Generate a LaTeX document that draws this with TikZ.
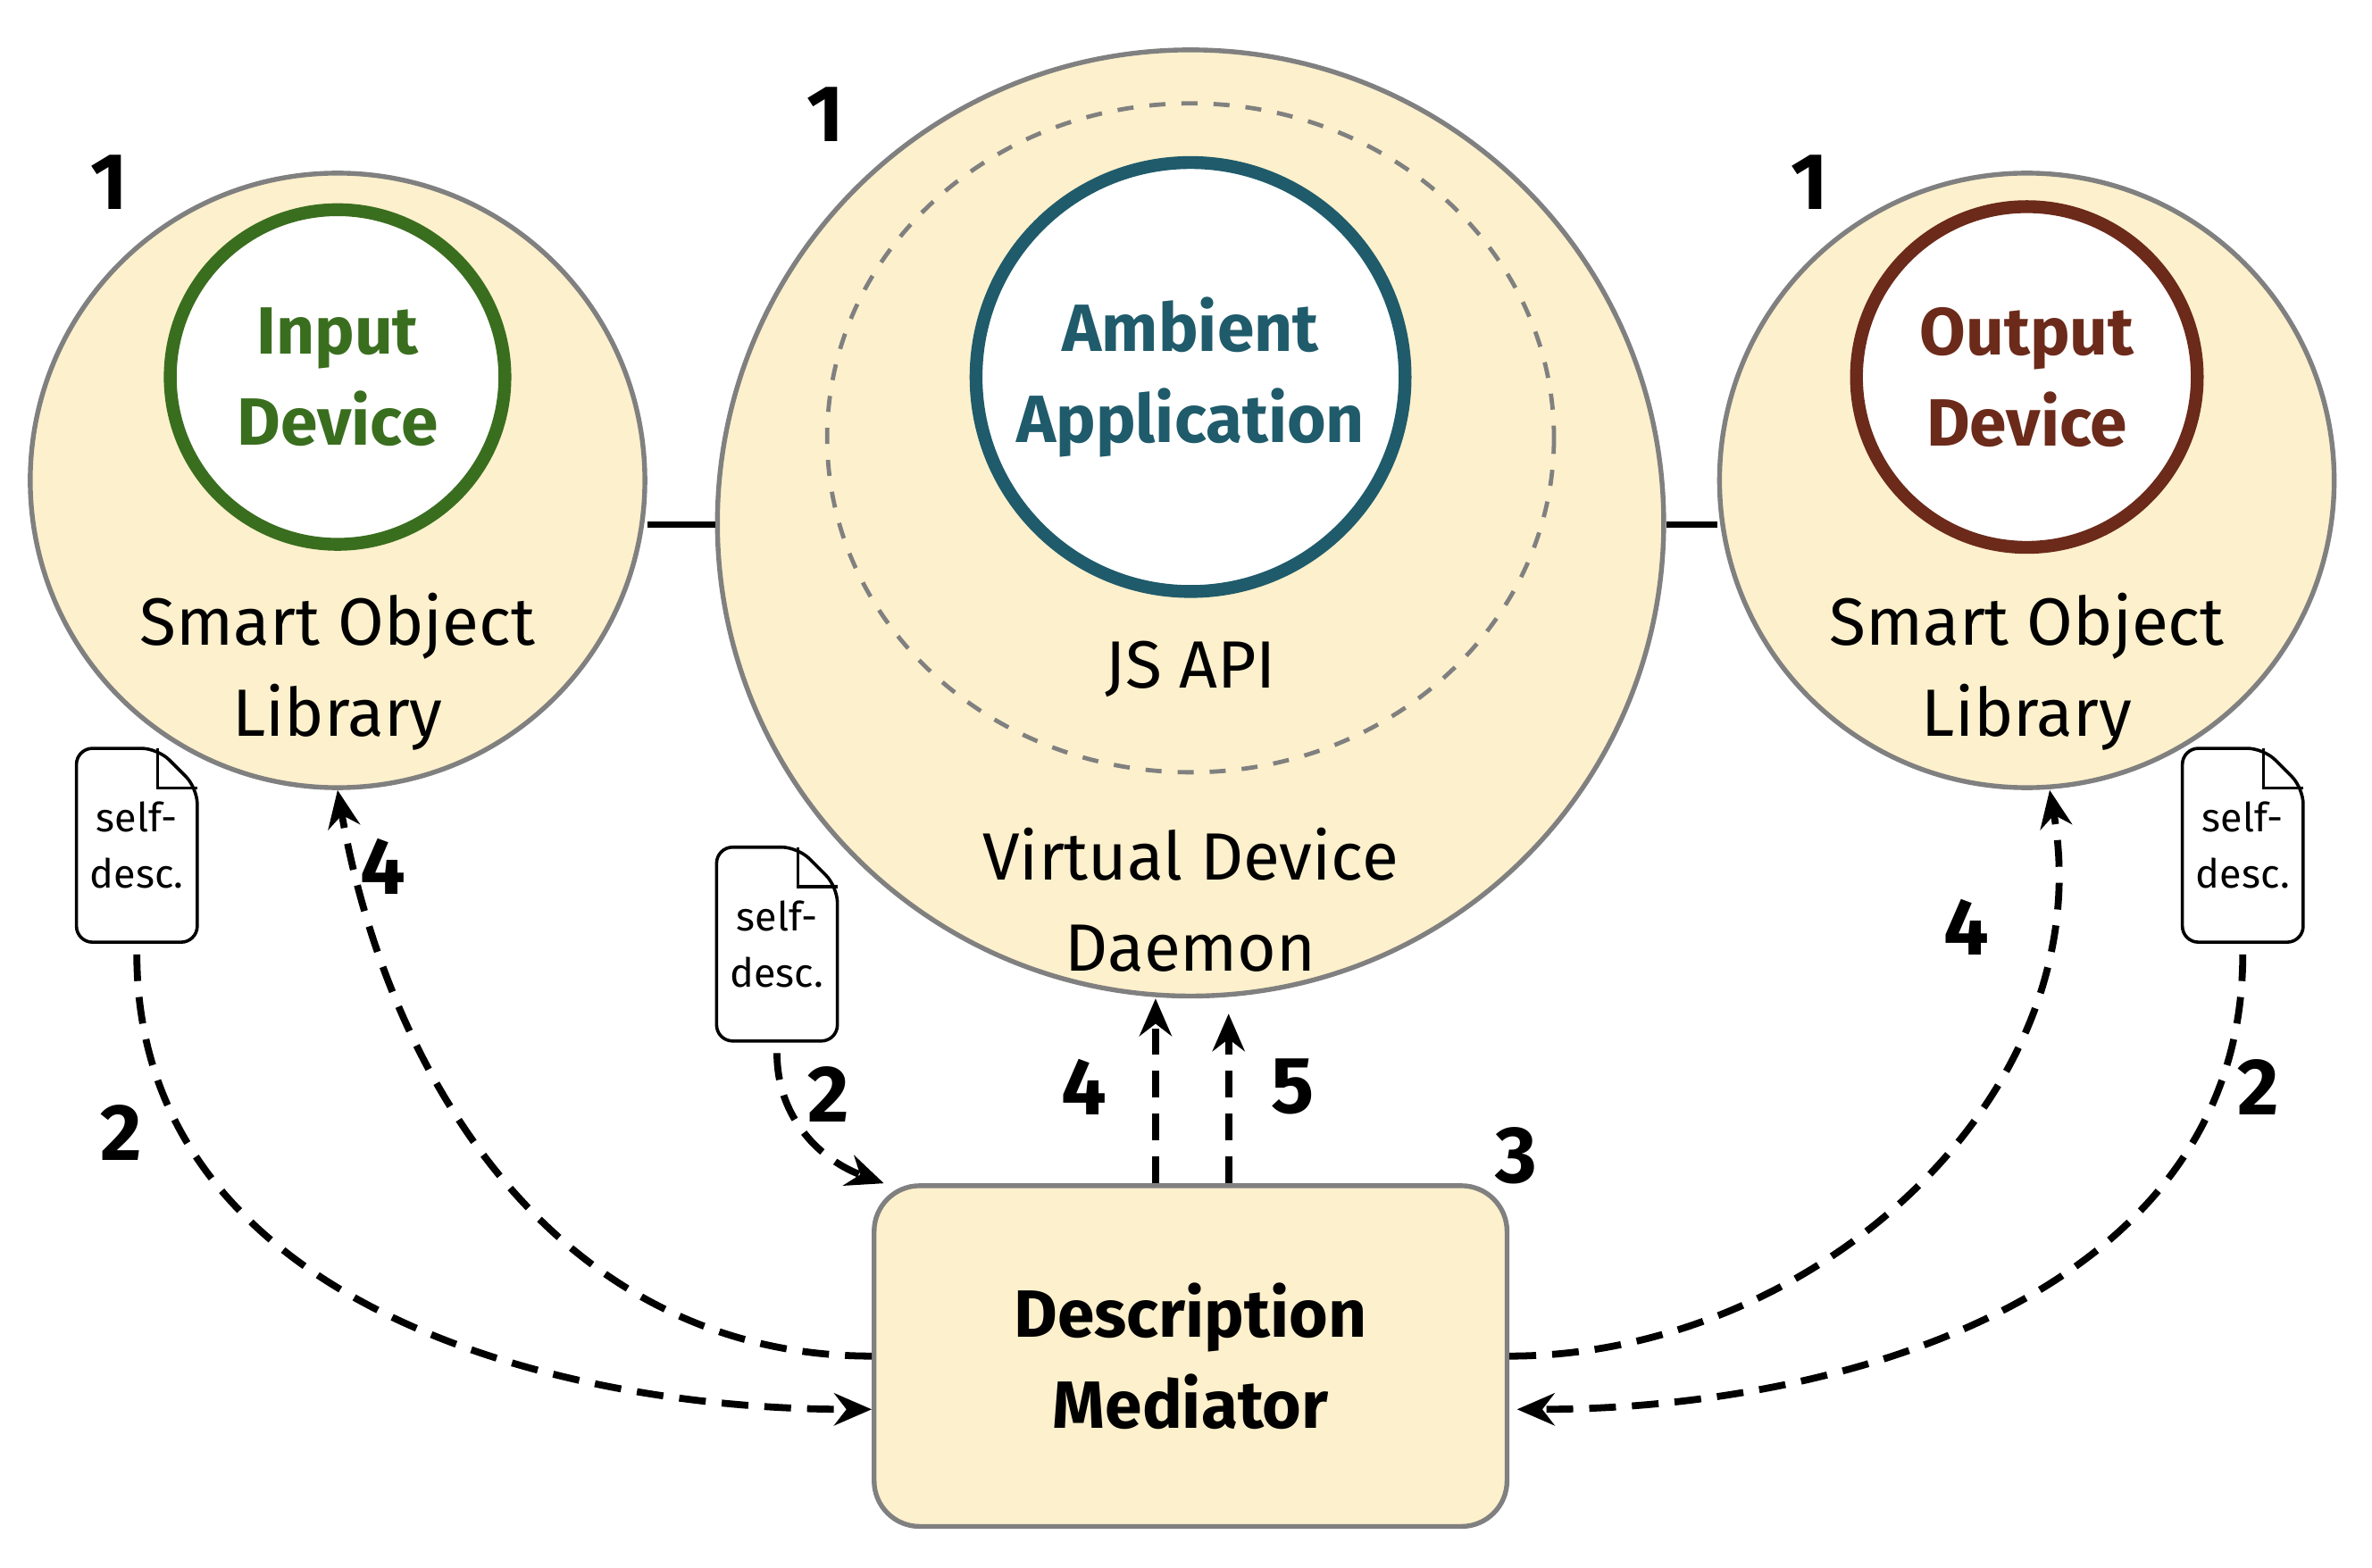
\documentclass[tikz,border=0pt]{standalone}
\usepackage{fontspec}
\setmainfont{Fira Sans}
\usetikzlibrary{arrows.meta}
\definecolor{soft}{HTML}{FDF0CC}
\definecolor{ringgray}{HTML}{808080}
\definecolor{ingreen}{HTML}{3A6E1F}
\definecolor{ambteal}{HTML}{1F5B6B}
\definecolor{outbrown}{HTML}{6B2A1A}
\tikzset{
  host/.style={circle, draw=ringgray, line width=0.9pt, fill=soft},
  core/.style={circle, line width=2.4pt, fill=white},
  lbl/.style={font=\fontsize{12.5}{17}\selectfont, align=center},
  title/.style={font=\bfseries\fontsize{12.5}{17}\selectfont, align=center},
  num/.style={font=\bfseries\fontsize{15}{18}\selectfont},
  flow/.style={dashed, line width=1.3pt, dash pattern=on 5pt off 3pt, -{Stealth[length=7pt,width=6pt]}},
  doc/.style={minimum width=0.78cm, minimum height=1.26cm, inner sep=0pt, align=center, font=\fontsize{7.5}{10.5}\selectfont}
}
\newcommand\selfdesc[2]{%
  \node[doc] (#1) at (#2) {self-\\desc.};
  \draw[line width=0.6pt, rounded corners=3pt] (#1.south west) -- ([yshift=0pt]#1.north west) -- ([xshift=-0.26cm]#1.north east)
    -- ([yshift=-0.26cm]#1.north east) -- (#1.south east) -- cycle;
  \draw[line width=0.6pt] ([xshift=-0.26cm]#1.north east) -- ([xshift=-0.26cm,yshift=-0.26cm]#1.north east) -- ([yshift=-0.26cm]#1.north east);
}
\begin{document}
\begin{tikzpicture}[x=0.01cm,y=-0.01cm]
  \useasboundingbox (0,0) rectangle (1560,1031);

  % hosts
  \node[host, minimum size=4.04cm] (left) at (222,316) {};
  \node[host, minimum size=6.22cm] (mid) at (783,344) {};
  \node[host, minimum size=4.04cm] (right) at (1333,316) {};
  \draw[line width=1.2pt] (left.east |- 0,345) -- (mid.west |- 0,345);
  \draw[line width=1.2pt] (mid.east |- 0,345) -- (right.west |- 0,345);
  \draw[ringgray, dashed, line width=0.8pt] (783,288) ellipse [x radius=239, y radius=220];

  % cores
  \node[core, draw=ingreen, minimum size=2.2cm] (inp) at (222,248) {};
  \node[title, text=ingreen] at (inp) {Input\\Device};
  \node[core, draw=ambteal, minimum size=2.82cm] (amb) at (783,248) {};
  \node[title, text=ambteal] at (amb) {Ambient\\Application};
  \node[core, draw=outbrown, minimum size=2.24cm] (outp) at (1333,248) {};
  \node[title, text=outbrown] at (outp) {Output\\Device};

  \node[lbl] (libL) at (222,442) {Smart Object\\Library};
  \node[lbl] (libR) at (1333,442) {Smart Object\\Library};
  \node[lbl] (jsapi) at (783,440) {JS API};
  \node[lbl] (vdd) at (783,592) {Virtual Device\\Daemon};

  % mediator
  \node[draw=ringgray, line width=0.9pt, fill=soft, rounded corners=0.3cm, minimum width=4.16cm, minimum height=2.24cm, title] (med) at (783,892) {Description\\Mediator};

  % self descriptions
  \selfdesc{docL}{90,556}
  \selfdesc{docM}{511,621}
  \selfdesc{docR}{1475,556}

  % flows
  \draw[flow] ([yshift=-0.08cm]docL.south) to[out=-90, in=180] ([yshift=-0.35cm]med.west);
  \draw[flow] ([yshift=0.0cm]med.west) to[out=180, in=-80] (left.south);
  \draw[flow] ([yshift=-0.08cm]docM.south) to[out=-90, in=160] ([xshift=0.08cm]med.north west);
  \draw[flow] ([xshift=-0.23cm]med.north) -- ([xshift=-0.23cm]mid.south);
  \draw[flow] ([xshift=0.25cm]med.north) -- ([xshift=0.25cm,yshift=-0.1cm]mid.south);
  \draw[flow] ([yshift=0.0cm]med.east) to[out=0, in=-80] ([xshift=0.15cm]right.south);
  \draw[flow] ([yshift=-0.08cm]docR.south) to[out=-90, in=0] ([yshift=-0.35cm,xshift=0.05cm]med.east);

  % step numbers
  \node[num] (n1a) at (72,120) {1};
  \node[num] (n1b) at (543,75) {1};
  \node[num] (n1c) at (1190,120) {1};
  \node[num] (n2a) at (80,745) {2};
  \node[num] (n2b) at (545,720) {2};
  \node[num] (n2c) at (1485,715) {2};
  \node[num] (n3) at (997,760) {3};
  \node[num] (n4a) at (252,570) {4};
  \node[num] (n4b) at (713,715) {4};
  \node[num] (n4c) at (1293,610) {4};
  \node[num] (n5) at (850,715) {5};
\end{tikzpicture}
\end{document}
